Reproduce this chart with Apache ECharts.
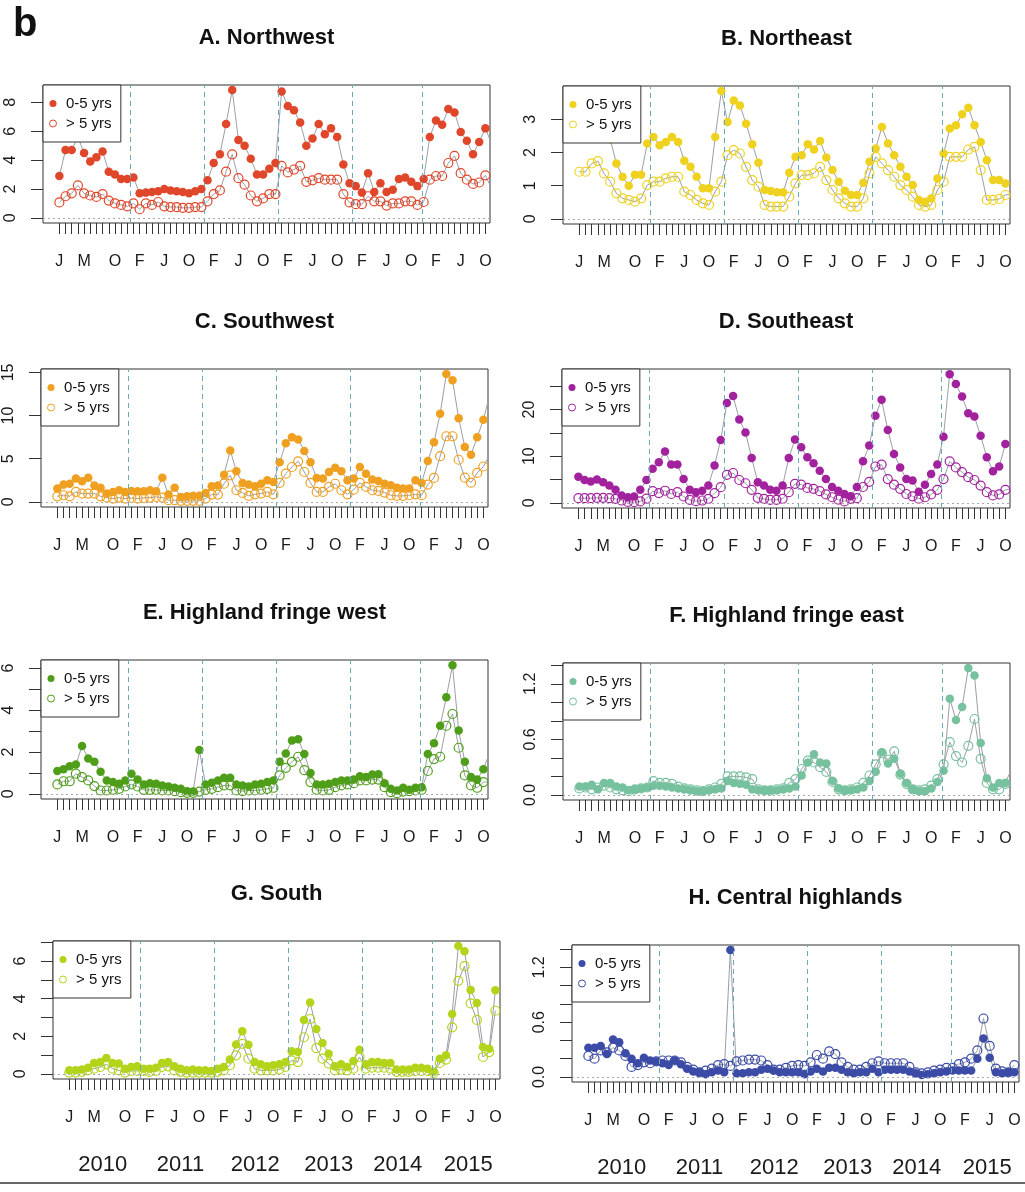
<!DOCTYPE html>
<html>
<head>
<meta charset="utf-8">
<script src="https://cdn.jsdelivr.net/npm/echarts@6/dist/echarts.min.js"></script>
<style>
html,body{margin:0;padding:0;background:#fff;}
#chart{width:1025px;height:1192px;}
</style>
</head>
<body>
<div id="chart"></div>
<script>
// ---------- labels ----------
const monthLetters = ['J','F','M','A','M','J','J','A','S','O','N','D'];
const labeledMonths = [0,4,9,13,17,21,25,29,33,37,41,45,49,53,57,61,65,69];
const years = ['2010','2011','2012','2013','2014','2015'];
const yearLabelPos = [5.4, 18.0, 30.1, 42.0, 53.2, 64.6];
const seasonBreaks = [11.5, 23.5, 35.5, 47.5, 58.7];
const ageGroups = ['0-5 yrs', '> 5 yrs'];
const panelTitles = ['A. Northwest','B. Northeast','C. Southwest','D. Southeast','E. Highland fringe west','F. Highland fringe east','G. South','H. Central highlands'];

// ---------- y-axis ticks / labels ----------
const ticksNW = [0,2,4,6,8],            labelsNW = [0,2,4,6,8];
const ticksNE = [0,1,2,3],              labelsNE = [0,1,2,3];
const ticksSW = [0,5,10,15],            labelsSW = [0,5,10,15];
const ticksSE = [0,5,10,15,20,25],      labelsSE = [0,10,20];
const ticksHFW = [0,1,2,3,4,5,6],       labelsHFW = [0,2,4,6];
const ticksHFE = [0,0.2,0.4,0.6,0.8,1.0,1.2,1.4], labelsHFE = [0,0.6,1.2];
const ticksS = [0,1,2,3,4,5,6,7],       labelsS = [0,2,4,6];
const ticksCH = [0,0.2,0.4,0.6,0.8,1.0,1.2,1.4],  labelsCH = [0,0.6,1.2];

// ---------- data (monthly, index 0 = Jan 2010) ----------
const northwestU5 = [2.9,4.7,4.7,5.6,4.5,3.9,4.2,4.6,3.2,3.0,2.7,2.7,2.8,
  1.7,1.75,1.8,1.85,2.0,1.9,1.85,1.8,1.7,1.85,2.0,
  2.6,3.8,4.4,6.5,8.85,5.4,5.0,4.1,3.0,3.0,3.4,3.8,
  8.75,7.75,7.45,6.6,5.0,5.5,6.5,5.8,6.2,5.6,3.7,2.4,
  2.2,1.75,3.1,1.8,2.4,1.8,1.95,2.7,2.8,2.5,2.2,2.7,
  5.6,6.75,6.45,7.55,7.3,5.95,5.35,4.4,5.25,6.2,5.15];
const northwestO5 = [1.07,1.5,1.7,2.25,1.7,1.55,1.45,1.65,1.2,1.0,0.9,0.8,1.0,
  0.6,1.0,0.9,1.1,0.8,0.75,0.75,0.7,0.7,0.75,0.75,
  1.15,1.65,1.9,3.2,4.4,2.75,2.3,1.55,1.15,1.35,1.65,1.65,
  3.6,3.15,3.35,3.6,2.5,2.6,2.75,2.65,2.65,2.65,1.65,1.07,
  0.95,0.95,1.5,1.15,1.15,0.85,1.0,1.0,1.15,1.15,0.9,1.1,
  2.65,2.9,2.9,3.8,4.3,3.1,2.65,2.35,2.45,2.95,2.05];

const northeastU5 = [2.6,2.8,3.0,2.9,2.7,2.4,1.67,1.27,1.0,1.33,1.33,2.27,
  2.47,2.22,2.32,2.47,2.32,1.75,1.57,1.27,0.92,0.92,2.47,3.85,
  2.92,3.57,3.42,2.87,2.25,1.69,0.87,0.84,0.8,0.8,1.39,1.87,
  1.92,2.25,2.09,2.35,1.85,1.47,1.12,0.85,0.72,0.72,1.09,1.72,
  2.12,2.77,2.27,1.92,1.57,1.27,1.02,0.57,0.52,0.62,1.22,1.97,
  2.72,2.82,3.15,3.35,2.82,2.32,1.77,1.17,1.17,1.07,1.1];
const northeastO5 = [1.42,1.42,1.67,1.74,1.37,1.12,0.77,0.62,0.57,0.52,0.62,1.02,
  1.12,1.12,1.22,1.27,1.27,0.82,0.72,0.57,0.47,0.42,0.82,1.12,
  1.92,2.07,1.97,1.57,1.17,0.97,0.42,0.37,0.37,0.37,0.67,1.07,
  1.32,1.32,1.37,1.57,1.17,0.87,0.62,0.47,0.37,0.37,0.62,1.37,
  1.87,1.67,1.47,1.27,1.02,0.87,0.67,0.42,0.37,0.42,0.87,1.12,
  1.87,1.87,1.87,2.09,2.17,1.47,0.57,0.57,0.6,0.72,0.75];

const southwestU5 = [1.54,2.0,2.1,2.7,2.4,2.8,1.9,1.65,0.96,1.15,1.35,1.15,
  1.27,1.23,1.23,1.35,1.23,2.8,0.85,1.65,0.58,0.65,0.7,0.7,
  1.04,1.8,1.9,3.15,5.96,3.54,2.2,2.0,1.8,2.1,2.5,2.3,
  4.6,6.8,7.5,7.23,5.9,4.6,2.77,2.7,3.46,3.96,3.54,2.5,
  2.7,4.04,3.27,2.58,2.42,2.1,1.92,1.65,1.54,1.54,2.5,2.2,
  4.73,6.92,10.2,14.8,14.1,9.7,6.35,5.46,7.5,9.5,12.3];
const southwestO5 = [0.65,0.77,0.65,1.15,0.96,0.96,0.96,0.65,0.5,0.38,0.5,0.38,
  0.46,0.38,0.46,0.5,0.58,0.5,0.2,0.2,0.12,0.12,0.12,0.12,
  0.38,0.85,0.85,2.1,3.08,1.35,1.04,0.7,0.88,0.96,1.15,0.88,
  2.2,3.27,4.04,4.7,3.46,2.2,1.15,1.15,1.73,2.1,1.35,0.88,
  1.42,2.2,1.73,1.35,1.27,1.08,0.77,0.7,0.7,0.77,0.88,0.77,
  2.0,2.77,5.3,7.6,7.6,4.88,2.8,2.23,3.35,4.1,5.4];

const southeastU5 = [5.6,4.9,4.6,5.0,4.4,3.7,2.8,1.6,1.2,1.35,2.8,4.9,
  7.3,8.7,11.0,8.2,8.2,5.1,2.8,2.3,2.6,3.7,8.0,13.5,
  21.4,22.9,17.9,15.1,9.6,4.4,3.7,2.8,2.6,3.7,9.6,13.6,
  11.9,9.8,8.5,6.9,5.1,3.4,2.6,1.9,1.4,3.4,8.9,12.3,
  18.7,22.1,15.6,10.5,7.6,5.1,4.8,2.4,3.9,6.2,8.2,14.2,
  27.6,25.5,22.8,19.2,18.5,14.4,9.8,6.8,7.8,12.6,12.8];
const southeastO5 = [1.0,1.0,1.0,1.07,1.07,1.0,0.86,0.5,0.2,0.15,0.3,0.9,
  2.5,2.1,2.6,1.9,2.3,1.36,0.64,0.36,0.5,0.86,2.07,3.36,
  6.0,6.4,4.9,4.2,2.8,1.07,0.86,0.64,0.64,0.86,2.3,4.07,
  3.93,3.2,3.0,2.5,1.8,1.2,0.7,0.3,0.86,1.0,3.4,4.5,
  7.8,8.2,5.1,3.9,3.0,1.9,1.4,0.9,1.2,1.8,2.8,5.1,
  8.9,7.6,6.6,5.5,4.9,3.7,2.3,1.6,1.8,2.8,3.0];

const fringeWestU5 = [1.09,1.17,1.32,1.4,2.28,1.69,1.53,1.05,0.64,0.56,0.48,0.64,
  0.96,0.68,0.45,0.51,0.48,0.4,0.35,0.29,0.24,0.13,0.11,2.09,
  0.45,0.53,0.64,0.77,0.77,0.45,0.4,0.35,0.45,0.48,0.56,0.64,
  1.53,1.93,2.54,2.6,1.9,1.0,0.45,0.45,0.48,0.56,0.64,0.64,
  0.68,0.84,0.8,0.92,0.93,0.51,0.24,0.16,0.29,0.19,0.29,0.32,
  1.9,2.41,3.25,4.61,6.14,3.02,1.53,0.8,0.68,1.17,1.95];
const fringeWestO5 = [0.45,0.6,0.6,0.96,0.8,0.64,0.37,0.16,0.16,0.19,0.24,0.35,
  0.45,0.35,0.19,0.19,0.19,0.16,0.16,0.13,0.08,0.05,0.05,0.11,
  0.19,0.24,0.32,0.4,0.4,0.16,0.13,0.16,0.16,0.19,0.24,0.29,
  0.88,1.24,1.53,1.77,1.13,0.56,0.19,0.16,0.19,0.32,0.4,0.45,
  0.51,0.64,0.64,0.68,0.68,0.32,0.08,0.03,0.11,0.13,0.16,0.19,
  1.09,1.66,1.77,3.25,3.81,2.2,0.88,0.4,0.29,0.56,0.56];

const fringeEastU5 = [0.09,0.09,0.11,0.06,0.13,0.13,0.09,0.08,0.05,0.06,0.07,0.08,
  0.1,0.1,0.09,0.08,0.07,0.06,0.05,0.04,0.04,0.05,0.06,0.07,
  0.15,0.13,0.12,0.11,0.06,0.05,0.05,0.05,0.05,0.06,0.07,0.09,
  0.21,0.35,0.44,0.35,0.34,0.15,0.07,0.05,0.05,0.06,0.08,0.15,
  0.25,0.46,0.34,0.39,0.23,0.13,0.06,0.04,0.04,0.07,0.14,0.26,
  1.04,0.81,0.95,1.37,1.29,0.56,0.18,0.08,0.13,0.13,0.28];
const fringeEastO5 = [0.07,0.08,0.06,0.08,0.1,0.08,0.06,0.05,0.04,0.06,0.07,0.08,
  0.15,0.13,0.13,0.12,0.09,0.07,0.06,0.05,0.04,0.06,0.08,0.12,
  0.2,0.2,0.2,0.19,0.17,0.06,0.05,0.05,0.06,0.07,0.13,0.17,
  0.28,0.37,0.35,0.3,0.25,0.14,0.06,0.05,0.06,0.08,0.13,0.21,
  0.33,0.45,0.38,0.47,0.22,0.12,0.06,0.05,0.06,0.1,0.17,0.33,
  0.57,0.42,0.35,0.53,0.82,0.39,0.13,0.06,0.06,0.12,0.1];

const southU5 = [0.19,0.19,0.23,0.33,0.58,0.63,0.85,0.58,0.55,0.28,0.37,0.4,
  0.28,0.28,0.33,0.58,0.63,0.4,0.28,0.19,0.23,0.19,0.19,0.16,
  0.28,0.37,0.76,1.57,2.27,1.55,0.63,0.51,0.4,0.46,0.51,0.63,
  1.21,1.16,2.87,3.8,2.39,1.64,1.07,0.4,0.51,0.37,0.69,1.29,
  0.51,0.63,0.63,0.58,0.58,0.23,0.23,0.23,0.33,0.33,0.28,0.11,
  0.81,0.99,3.19,6.8,6.53,4.47,3.77,1.43,1.34,4.45];
const southO5 = [0.07,0.07,0.11,0.19,0.28,0.37,0.51,0.28,0.19,0.07,0.16,0.16,
  0.16,0.11,0.16,0.37,0.4,0.19,0.11,0.07,0.07,0.07,0.07,0.07,
  0.11,0.19,0.46,0.99,1.6,0.81,0.28,0.19,0.19,0.19,0.23,0.37,
  0.72,0.63,1.95,2.92,1.37,0.81,0.55,0.19,0.23,0.19,0.28,0.9,
  0.28,0.33,0.33,0.33,0.28,0.11,0.11,0.11,0.16,0.16,0.16,0.05,
  0.58,0.76,2.48,4.95,5.74,3.75,2.87,0.9,1.16,3.36];

const centralU5 = [0.32,0.32,0.34,0.25,0.41,0.38,0.26,0.2,0.15,0.21,0.18,0.17,
  0.15,0.13,0.18,0.14,0.09,0.06,0.05,0.03,0.05,0.07,0.05,1.39,
  0.04,0.04,0.05,0.05,0.08,0.09,0.07,0.05,0.05,0.05,0.05,0.03,
  0.06,0.09,0.06,0.1,0.1,0.08,0.05,0.04,0.05,0.05,0.09,0.05,
  0.08,0.08,0.08,0.08,0.06,0.04,0.02,0.03,0.04,0.05,0.06,0.07,
  0.07,0.07,0.07,0.2,0.42,0.21,0.05,0.04,0.05,0.05];
const centralO5 = [0.23,0.2,0.29,0.27,0.32,0.29,0.23,0.11,0.13,0.16,0.15,0.17,
  0.18,0.18,0.18,0.16,0.11,0.08,0.05,0.07,0.09,0.13,0.14,0.12,
  0.17,0.18,0.19,0.19,0.18,0.13,0.08,0.08,0.1,0.12,0.13,0.12,
  0.16,0.24,0.2,0.28,0.25,0.16,0.11,0.08,0.08,0.11,0.15,0.17,
  0.15,0.15,0.15,0.15,0.11,0.05,0.04,0.05,0.07,0.08,0.1,0.1,
  0.14,0.16,0.2,0.29,0.64,0.34,0.09,0.06,0.05,0.13];

// ---------- layout / styling ----------
const FONT = '"Liberation Sans", Arial, Helvetica, sans-serif';
const X_MIN = -2.65, X_MAX = 69.75;
const monthTicks = Array.from({length: 70}, (_, m) => m);

const panels = [
  {key:'A', color:'#E0462A', u5:northwestU5, o5:northwestO5, yT:ticksNW,  yL:labelsNW,  dec:0, grid:{left:43,  top:85,  width:447, height:138}},
  {key:'B', color:'#EFD21F', u5:northeastU5, o5:northeastO5, yT:ticksNE,  yL:labelsNE,  dec:0, grid:{left:563, top:86,  width:447, height:138}},
  {key:'C', color:'#F0A020', u5:southwestU5, o5:southwestO5, yT:ticksSW,  yL:labelsSW,  dec:0, grid:{left:41,  top:369, width:447, height:138}},
  {key:'D', color:'#A2229E', u5:southeastU5, o5:southeastO5, yT:ticksSE,  yL:labelsSE,  dec:0, grid:{left:562, top:369, width:448, height:139}},
  {key:'E', color:'#4F9E1A', u5:fringeWestU5, o5:fringeWestO5, yT:ticksHFW, yL:labelsHFW, dec:0, grid:{left:41,  top:660, width:447, height:139}},
  {key:'F', color:'#76C19E', u5:fringeEastU5, o5:fringeEastO5, yT:ticksHFE, yL:labelsHFE, dec:1, grid:{left:563, top:663, width:447, height:137}},
  {key:'G', color:'#B2D41B', u5:southU5, o5:southO5, yT:ticksS, yL:labelsS, dec:0, grid:{left:53,  top:941, width:447, height:138}},
  {key:'H', color:'#3B4BA6', u5:centralU5, o5:centralO5, yT:ticksCH, yL:labelsCH, dec:1, grid:{left:572, top:945, width:447, height:137}}
];

const titles = [{text:'b', left:13, top:5, padding:0, textStyle:{fontSize:40, fontWeight:'bold', color:'#111', fontFamily:FONT}}];
const grids = [], legends = [], xAxes = [], yAxes = [], series = [];

panels.forEach((p, i) => {
  const g = p.grid;
  titles.push({text: panelTitles[i], left: g.left + g.width / 2, top: g.top - 58, textAlign:'center', padding:0,
    textStyle:{fontSize:22, fontWeight:'bold', color:'#111', fontFamily:FONT}});
  grids.push({left:g.left, top:g.top, width:g.width, height:g.height, show:true, borderColor:'#333', borderWidth:1, backgroundColor:'transparent'});
  const n0 = p.key + '|' + ageGroups[0], n1 = p.key + '|' + ageGroups[1];
  legends.push({
    orient:'vertical', left:g.left, top:g.top, padding:[10,9,10,6], itemGap:3, itemWidth:16, itemHeight:7,
    backgroundColor:'#fff', borderColor:'#333', borderWidth:1, selectedMode:false,
    textStyle:{fontSize:15, color:'#111', fontFamily:FONT, lineHeight:17},
    formatter: name => name.split('|')[1],
    data:[
      {name:n0, icon:'circle', itemStyle:{color:p.color, borderWidth:0}},
      {name:n1, icon:'circle', itemStyle:{color:'#fff', borderColor:p.color, borderWidth:1}}
    ]
  });
  xAxes.push({
    type:'value', gridIndex:i, min:X_MIN, max:X_MAX,
    axisLine:{show:false, onZero:false}, splitLine:{show:false},
    axisTick:{show:true, customValues:monthTicks, length:11, lineStyle:{color:'#333', width:1}},
    axisLabel:{show:true, customValues:labeledMonths, formatter: v => monthLetters[Math.round(v) % 12],
      margin:31, fontSize:16, color:'#1a1a1a', fontFamily:FONT}
  });
  const mx = Math.max(...p.u5, ...p.o5);
  yAxes.push({
    type:'value', gridIndex:i, min:-0.04 * mx, max:1.04 * mx,
    axisLine:{show:false, onZero:false}, splitLine:{show:false},
    axisTick:{show:true, customValues:p.yT, length:12, lineStyle:{color:'#333', width:1}},
    axisLabel:{show:true, customValues:p.yL, rotate:90, margin:24, fontSize:16, color:'#1a1a1a', fontFamily:FONT,
      formatter: v => Number(v).toFixed(p.dec)}
  });
  const refLines = seasonBreaks.map(b => ({xAxis:b}));
  refLines.push({yAxis:0, lineStyle:{color:'#aaa', type:[2,3], width:1}});
  series.push({
    name:n0, type:'line', xAxisIndex:i, yAxisIndex:i,
    data: p.u5.map((v, m) => [m, v]),
    symbol:'circle', symbolSize:8.5, showSymbol:true, clip:true,
    itemStyle:{color:p.color},
    lineStyle:{color:'#9a9ea6', width:1},
    emphasis:{disabled:true},
    markLine:{silent:true, symbol:['none','none'], label:{show:false},
      lineStyle:{color:'#6aaabb', type:[5,4], width:1}, emphasis:{disabled:true}, data:refLines}
  });
  series.push({
    name:n1, type:'line', xAxisIndex:i, yAxisIndex:i,
    data: p.o5.map((v, m) => [m, v]),
    symbol:'circle', symbolSize:9, showSymbol:true, clip:true,
    itemStyle:{color:'rgba(255,255,255,0)', borderColor:p.color, borderWidth:1.2},
    lineStyle:{color:'#9a9ea6', width:1},
    emphasis:{disabled:true}
  });
});

// year labels under the bottom panels
[6, 7].forEach(i => {
  xAxes.push({
    type:'value', gridIndex:i, min:X_MIN, max:X_MAX, position:'bottom',
    axisLine:{show:false, onZero:false}, axisTick:{show:false}, splitLine:{show:false},
    axisLabel:{show:true, customValues:yearLabelPos, margin:75, fontSize:22, color:'#1a1a1a', fontFamily:FONT,
      formatter: v => {
        let best = 0;
        yearLabelPos.forEach((c, k) => { if (Math.abs(c - v) < Math.abs(yearLabelPos[best] - v)) best = k; });
        return years[best];
      }}
  });
});

const chart = echarts.init(document.getElementById('chart'), null, {renderer:'canvas'});
chart.setOption({
  animation:false,
  backgroundColor:'#fff',
  textStyle:{fontFamily:FONT},
  title:titles,
  grid:grids,
  legend:legends,
  xAxis:xAxes,
  yAxis:yAxes,
  series:series,
  graphic:[{type:'line', silent:true, shape:{x1:0, y1:1183, x2:1025, y2:1183}, style:{stroke:'#333', lineWidth:1.5}}]
});
</script>
</body>
</html>
